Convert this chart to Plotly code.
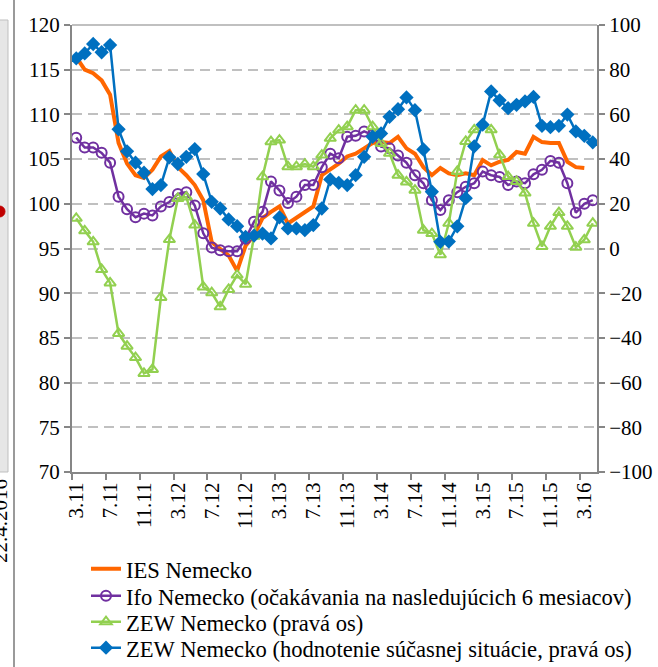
import plotly.graph_objects as go

months = ["3.11","4.11","5.11","6.11","7.11","8.11","9.11","10.11","11.11","12.11",
          "1.12","2.12","3.12","4.12","5.12","6.12","7.12","8.12","9.12","10.12","11.12","12.12",
          "1.13","2.13","3.13","4.13","5.13","6.13","7.13","8.13","9.13","10.13","11.13","12.13",
          "1.14","2.14","3.14","4.14","5.14","6.14","7.14","8.14","9.14","10.14","11.14","12.14",
          "1.15","2.15","3.15","4.15","5.15","6.15","7.15","8.15","9.15","10.15","11.15","12.15",
          "1.16","2.16","3.16","4.16"]

ies = [116.4,115.0,114.6,113.8,112.2,106.8,104.5,103.2,102.9,103.8,
       105.3,105.9,104.1,103.2,102.1,100.4,95.7,95.0,94.2,92.5,
       95.3,96.5,98.4,99.1,99.7,97.8,98.4,99.1,99.7,103.2,
       103.8,104.5,105.3,105.6,106.2,106.8,106.9,106.8,107.5,106.2,
       105.6,104.1,103.2,104.0,103.4,103.2,103.4,103.2,104.9,104.3,
       104.7,104.9,105.8,105.6,107.5,106.9,106.8,106.8,104.7,104.1,
       104.0]

ifo_exp = [107.4,106.3,106.3,105.7,104.6,100.8,99.4,98.5,98.9,98.7,
           99.7,100.2,101.1,101.3,99.8,96.7,95.1,94.8,94.7,94.7,
           96.1,98.0,99.1,102.5,101.5,100.1,100.8,102.1,102.1,104.1,
           105.6,105.1,107.5,107.6,108.1,107.7,106.4,106.2,105.4,104.6,
           103.2,102.3,100.4,99.3,100.4,101.3,101.9,102.3,103.6,103.2,
           103.0,102.1,102.5,102.3,103.3,103.8,104.8,104.6,102.3,99.0,
           100.0,100.4]

zew_exp = [13.5,7.9,3.0,-9.4,-15.4,-38.0,-43.7,-48.8,-55.9,-54.1,
           -21.9,4.0,22.4,23.0,10.5,-17.2,-19.8,-26.1,-18.3,-11.9,
           -16.0,5.5,32.1,47.8,48.5,36.6,36.6,37.8,36.6,41.8,
           49.3,53.0,54.5,61.9,61.9,54.5,47.0,42.6,32.8,29.8,
           26.1,8.2,6.7,-2.8,11.3,34.5,47.9,53.1,55.0,53.1,
           41.9,32.2,30.0,24.8,11.3,0.9,9.9,16.1,9.9,0.6,
           3.9,11.3]

zew_cur = [85.1,87.3,91.5,87.8,91.0,53.3,43.5,38.4,33.9,26.6,
           28.4,40.8,37.8,41.0,44.5,33.3,20.9,17.9,13.0,10.0,
           5.2,5.8,6.7,4.5,13.9,9.0,9.0,8.2,10.5,17.9,
           30.9,29.4,28.4,32.8,41.0,50.0,51.5,58.9,62.3,67.6,
           61.9,44.3,25.4,3.0,3.1,9.9,22.5,45.7,55.4,70.3,
           66.3,62.8,64.3,65.8,67.8,54.9,54.3,54.9,59.9,52.4,
           50.4,47.5]

names = ["IES Nemecko",
         "Ifo Nemecko (očakávania na nasledujúcich 6 mesiacov)",
         "ZEW Nemecko (pravá os)",
         "ZEW Nemecko (hodnotenie súčasnej situácie, pravá os)"]

FONT = "Liberation Serif"
AX = "#868686"
GRID = "#C0C0C0"

fig = go.Figure()
fig.add_trace(go.Scatter(x=months[:len(ies)], y=ies, name=names[0], mode="lines",
                         legend="legend",
                         line=dict(color="#FF6600", width=4)))
fig.add_trace(go.Scatter(x=months, y=ifo_exp, name=names[1], mode="lines+markers",
                         legend="legend2",
                         line=dict(color="#7030A0", width=2.5),
                         marker=dict(symbol="circle-open", size=10, color="#7030A0",
                                     line=dict(width=2, color="#7030A0"))))
fig.add_trace(go.Scatter(x=months, y=zew_exp, name=names[2], mode="lines+markers", yaxis="y2",
                         legend="legend3",
                         line=dict(color="#92D050", width=2.5),
                         marker=dict(symbol="triangle-up-open", size=10, color="#92D050",
                                     line=dict(width=2, color="#92D050"))))
fig.add_trace(go.Scatter(x=months, y=zew_cur, name=names[3], mode="lines+markers", yaxis="y2",
                         legend="legend4",
                         line=dict(color="#0070C0", width=2.5),
                         marker=dict(symbol="diamond", size=11, color="#0070C0")))

W, H = 658, 667
L, R, T, B = 72, 61, 25, 195
PW, PH = W - L - R, H - T - B

px = lambda p: (p - L) / PW
py = lambda p: (H - B - p) / PH

def leg(row_y):
    return dict(x=px(86), y=py(row_y), xanchor="left", yanchor="middle",
                font=dict(family=FONT, size=22.6, color="black"),
                bgcolor="rgba(0,0,0,0)")

fig.update_layout(
    width=W, height=H,
    margin=dict(l=L, r=R, t=T, b=B, autoexpand=False),
    paper_bgcolor="white", plot_bgcolor="white",
    font=dict(family=FONT, size=21, color="black"),
    showlegend=True,
    legend=leg(569), legend2=leg(596), legend3=leg(622), legend4=leg(648),
    xaxis=dict(type="category", categoryorder="array", categoryarray=months,
               range=[-0.5, len(months) - 0.5], automargin=False,
               tickmode="linear", tick0=0, dtick=4, tickson="boundaries",
               tickangle=-90, ticks="outside", ticklen=6, tickcolor=AX, tickwidth=2,
               showline=True, linecolor=AX, linewidth=2, showgrid=False, zeroline=False,
               tickfont=dict(family=FONT, size=21, color="black")),
    yaxis=dict(range=[70, 120], dtick=5, tick0=70, automargin=False,
               showline=True, linecolor=AX, linewidth=2,
               ticks="outside", ticklen=6, tickcolor=AX, tickwidth=2,
               showgrid=True, gridcolor=GRID, griddash="10px,6px", gridwidth=2, zeroline=False,
               tickfont=dict(family=FONT, size=21, color="black")),
    yaxis2=dict(range=[-100, 100], dtick=20, tick0=-100, overlaying="y", side="right",
                automargin=False, showline=True, linecolor=AX, linewidth=2,
                ticks="outside", ticklen=6, tickcolor=AX, tickwidth=2,
                showgrid=False, zeroline=False,
                tickfont=dict(family=FONT, size=21, color="black")),
)

# top border of plot area
fig.add_shape(type="line", xref="paper", yref="paper", x0=0, x1=1, y0=1, y1=1,
              line=dict(color=GRID, width=2))

# fragment of neighbouring chart at the left edge
fig.add_shape(type="rect", xref="paper", yref="paper", x0=px(-2), x1=px(8), y0=py(472), y1=py(20),
              line=dict(color="#BFBFBF", width=1), fillcolor="#E6E6E6", layer="below")
fig.add_shape(type="line", xref="paper", yref="paper", x0=px(14), x1=px(14), y0=py(667), y1=py(0),
              line=dict(color="#9A9A9A", width=2))
fig.add_shape(type="circle", xref="paper", yref="paper", x0=px(-6), x1=px(5), y0=py(217), y1=py(206),
              line=dict(color="#C00000", width=1), fillcolor="#C00000")
fig.add_annotation(text="22.4.2016", xref="paper", yref="paper", x=px(0), y=py(521),
                   showarrow=False, textangle=-90, xanchor="center", yanchor="middle",
                   font=dict(family=FONT, size=21, color="black"))

fig.write_html("out.html", config={"displayModeBar": False},
               post_script="document.body.style.margin='0';document.body.style.padding='0';")
